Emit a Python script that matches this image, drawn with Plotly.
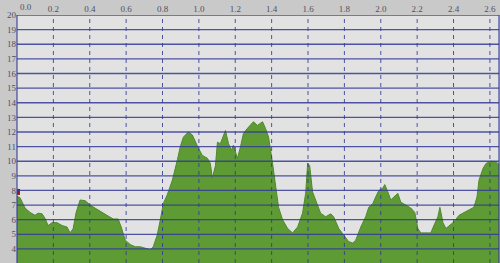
import plotly.graph_objects as go

# distance (km) and elevation (m)
distance = [0.000, 0.017, 0.044, 0.072, 0.099, 0.116, 0.138, 0.154, 0.171, 0.193,
            0.220, 0.248, 0.275, 0.292, 0.309, 0.325, 0.347, 0.375, 0.402, 0.441,
            0.474, 0.501, 0.529, 0.556, 0.573, 0.595, 0.623, 0.650, 0.678, 0.705,
            0.733, 0.749, 0.771, 0.788, 0.804, 0.826, 0.854, 0.882, 0.898, 0.915,
            0.942, 0.964, 0.981, 0.997, 1.019, 1.047, 1.063, 1.074, 1.091, 1.102,
            1.118, 1.146, 1.163, 1.179, 1.190, 1.212, 1.229, 1.245, 1.267, 1.284,
            1.300, 1.322, 1.350, 1.366, 1.383, 1.405, 1.421, 1.438, 1.460, 1.488,
            1.515, 1.543, 1.570, 1.587, 1.598, 1.609, 1.625, 1.642, 1.669, 1.697,
            1.725, 1.741, 1.769, 1.796, 1.824, 1.846, 1.862, 1.890, 1.917, 1.934,
            1.956, 1.972, 1.989, 2.011, 2.022, 2.039, 2.055, 2.072, 2.094, 2.110,
            2.138, 2.165, 2.187, 2.204, 2.220, 2.248, 2.275, 2.292, 2.314, 2.325,
            2.342, 2.358, 2.375, 2.402, 2.430, 2.457, 2.485, 2.512, 2.529, 2.540,
            2.562, 2.579, 2.606, 2.634, 2.656]
elevation = [7.6, 7.5, 6.8, 6.5, 6.3, 6.45, 6.4, 6.1, 5.6, 5.8,
             5.8, 5.6, 5.5, 5.1, 5.4, 6.5, 7.35, 7.3, 7.0, 6.7,
             6.4, 6.25, 6.05, 6.05, 5.5, 4.6, 4.3, 4.15, 4.15, 4.05,
             3.95, 4.15, 4.95, 6.0, 7.1, 7.7, 8.7, 10.1, 11.0, 11.65,
             12.0, 11.8, 11.3, 10.9, 10.4, 10.2, 9.85, 8.85, 9.7, 11.3,
             11.2, 12.1, 11.2, 10.75, 11.1, 10.2, 11.0, 11.9, 12.25, 12.45,
             12.7, 12.45, 12.7, 12.25, 11.65, 9.85, 8.2, 6.85, 6.0, 5.4,
             5.1, 5.5, 6.45, 7.8, 9.85, 9.7, 7.9, 7.35, 6.45, 6.2,
             6.4, 6.2, 5.4, 4.95, 4.5, 4.4, 4.6, 5.5, 6.2, 6.85,
             7.1, 7.55, 8.0, 8.15, 8.4, 7.9, 7.35, 7.55, 7.8, 7.2,
             7.0, 6.8, 6.5, 5.4, 5.1, 5.1, 5.1, 5.6, 6.2, 6.85,
             5.8, 5.4, 5.6, 5.85, 6.3, 6.5, 6.7, 6.85, 7.55, 8.7,
             9.5, 9.85, 10.0, 9.95, 9.7]

start_distance = [0.0]
start_elevation = [7.9]

x_ticks = [0.0, 0.2, 0.4, 0.6, 0.8, 1.0, 1.2, 1.4, 1.6, 1.8, 2.0, 2.2, 2.4, 2.6]
x_labels = ["0.0", "0.2", "0.4", "0.6", "0.8", "1.0", "1.2", "1.4", "1.6", "1.8", "2.0", "2.2", "2.4", "2.6"]
y_ticks = [3, 4, 5, 6, 7, 8, 9, 10, 11, 12, 13, 14, 15, 16, 17, 18, 19, 20]

fig = go.Figure()
fig.add_trace(go.Scatter(
    x=distance, y=elevation, mode="lines", fill="tozeroy",
    line=dict(color="#4e8a28", width=1), fillcolor="#5e9b34",
    hoverinfo="skip", showlegend=False))
fig.add_trace(go.Scatter(
    x=start_distance, y=start_elevation, mode="markers",
    marker=dict(symbol="square", size=6, color="#9a1c1c"),
    showlegend=False))

shapes = []
for yv in y_ticks:
    shapes.append(dict(type="line", xref="paper", x0=0, x1=1, yref="y", y0=yv, y1=yv,
                       line=dict(color="rgba(50,58,150,0.85)", width=1.3), layer="above"))
for xv in x_ticks[1:]:
    shapes.append(dict(type="line", xref="x", x0=xv, x1=xv, yref="paper", y0=0, y1=1,
                       line=dict(color="rgba(50,58,150,0.85)", width=1, dash="4px,4px"),
                       layer="above"))
shapes.append(dict(type="line", xref="paper", x0=0, x1=0, yref="paper", y0=0, y1=1,
                   line=dict(color="rgba(50,58,150,0.9)", width=1.2), layer="above"))
shapes.append(dict(type="line", xref="paper", x0=1, x1=1, yref="paper", y0=0, y1=1,
                   line=dict(color="rgba(50,58,150,0.9)", width=1.2), layer="above"))

# first x label is nudged right (as in the reference) so it clears the "20" label
annotations = [dict(x=x_ticks[0], xref="x", y=1, yref="paper", yanchor="bottom",
                    xanchor="center", xshift=9, yshift=1, text=x_labels[0],
                    showarrow=False, font=dict(family="Liberation Serif", size=9,
                                               color="#505060"))]

fig.update_layout(
    width=500, height=263,
    margin=dict(l=17, r=1, t=15, b=0),
    paper_bgcolor="#c9c9c9", plot_bgcolor="#e2e2e2",
    shapes=shapes, annotations=annotations,
    font=dict(family="Liberation Serif", size=9, color="#505060"),
    xaxis=dict(range=[0, 2.65], side="top", tickvals=x_ticks[1:], ticktext=x_labels[1:],
               showgrid=False, zeroline=False, showline=False, ticks="",
               ticklen=0, tickfont=dict(size=9)),
    yaxis=dict(range=[3.04, 20], tickvals=y_ticks, showgrid=False, zeroline=False,
               showline=False, ticks="", tickfont=dict(size=9)),
)

fig.write_html("out.html")
